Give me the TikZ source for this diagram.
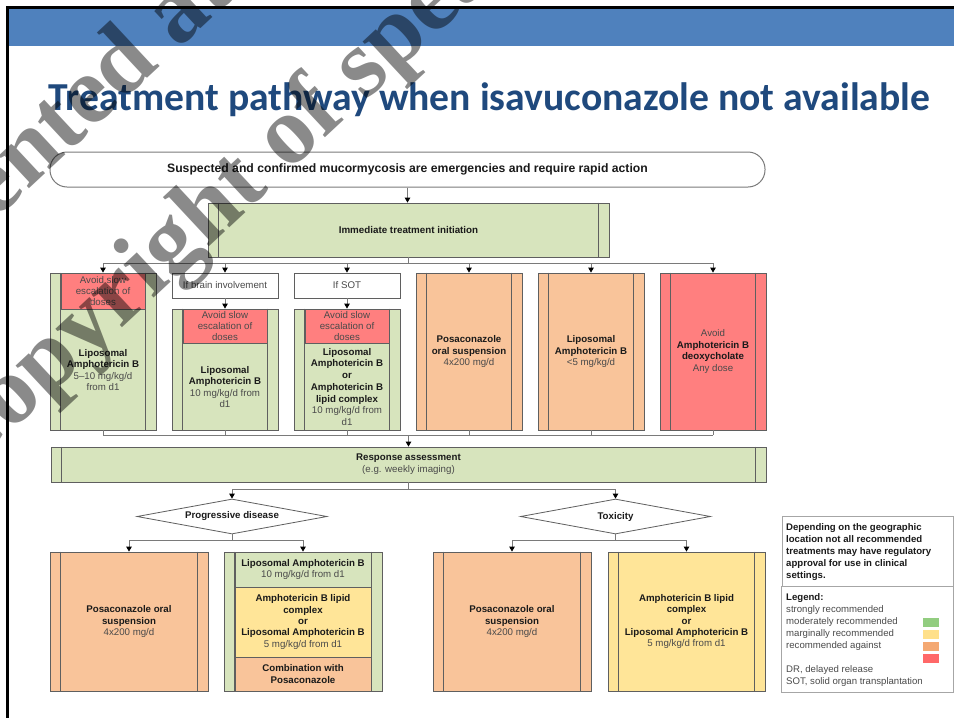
\documentclass[tikz,border=0pt]{standalone}
\usepackage{fontspec}
\setmainfont{Liberation Sans}
\newfontfamily\titlefont{Carlito}
\newfontfamily\markfont{Liberation Serif}
\usetikzlibrary{arrows.meta,calc,fit,shapes.geometric}

\definecolor{barblue}{HTML}{4F81BD}
\definecolor{titleblue}{HTML}{1F497D}
\definecolor{greenfill}{HTML}{D7E4BD}
\definecolor{orangefill}{HTML}{F9C49A}
\definecolor{redfill}{HTML}{FF7F7F}
\definecolor{yellowfill}{HTML}{FFE598}
\definecolor{edgec}{HTML}{5F5F5F}
\definecolor{connc}{HTML}{7A7A7A}
\definecolor{txtc}{HTML}{1A1A1A}
\definecolor{softtxt}{HTML}{4A4A4A}
\definecolor{lgreen}{HTML}{92CD80}
\definecolor{lyellow}{HTML}{FFE08A}
\definecolor{lorange}{HTML}{F4A872}
\definecolor{lred}{HTML}{FF6868}

\newcommand\fs[2]{\fontsize{#1}{#2}\selectfont}
\newcommand\dose[1]{\textcolor{softtxt}{#1}}

% process box: rectangle with a vertical rule inset on each side
\newcommand\pbox[6]{%
  \path (#2,#3) coordinate (#1-a) (#4,#5) coordinate (#1-b);
  \node[fit=(#1-a)(#1-b), boxline, fill=#6] (#1) {};
  \draw[boxline] ($(#1.north west)+(11,0)$) -- ($(#1.south west)+(11,0)$)
                 ($(#1.north east)+(-11,0)$) -- ($(#1.south east)+(-11,0)$);
}
% plain rectangle
\newcommand\plainbox[6]{%
  \path (#2,#3) coordinate (#1-a) (#4,#5) coordinate (#1-b);
  \node[fit=(#1-a)(#1-b), boxline, fill=#6] (#1) {};
}

\tikzset{
  boxline/.style={draw=edgec, line width=0.8pt, inner sep=0pt},
  conn/.style={draw=connc, line width=0.9pt},
  arr/.style={conn, -{Triangle[length=5pt,width=5.5pt,color=black]}},
  lbl/.style={align=center, inner sep=0pt, text=txtc, font=\fs{9.7}{11.4}},
  decision/.style={diamond, draw=edgec, fill=white, line width=0.8pt, aspect=5.4,
    minimum width=190pt, minimum height=35pt, inner sep=0pt, text=txtc,
    font=\bfseries\fs{9.7}{11}},
  swatch/.style={minimum width=16pt, minimum height=9pt, inner sep=0pt},
  wmark/.style={rotate=43, anchor=base west, inner sep=0pt, text=black,
    text opacity=0.46, font=\markfont\bfseries\fs{97}{100}},
}

\begin{document}
\begin{tikzpicture}[x=1pt,y=-1pt]
\useasboundingbox (0,0) rectangle (954,718);
\fill[white] (0,0) rectangle (954,718);

% slide header bar and frame
\fill[barblue] (8,8) rectangle (954,46);
\draw[black, line width=2.2pt] (7.5,718) -- (7.5,7.5) -- (954,7.5);

\node[anchor=base west, inner sep=0pt, text=titleblue] (title) at (48,110.5)
  {\resizebox{882pt}{!}{\titlefont\bfseries\fs{38}{40}Treatment pathway when isavuconazole not available}};

% entry
\node[draw=connc, line width=1pt, rounded corners=17pt, minimum width=715pt,
      minimum height=35pt, inner sep=0pt, text=txtc, font=\bfseries\fs{12.2}{14}]
  (alarm) at (407.5,169.5) {Suspected and confirmed mucormycosis are emergencies and require rapid action};

\pbox{imm}{208}{203}{609}{257}{greenfill}
\node[lbl, font=\bfseries\fs{9.8}{11}] (immt) at (imm.center) {Immediate treatment initiation};

% first-line options
\pbox{c1}{50}{273}{156}{430}{greenfill}
\plainbox{h1}{61}{273}{145}{309}{redfill}

\plainbox{q2}{172}{273}{278}{298}{white}
\pbox{c2}{172}{309}{278}{430}{greenfill}
\plainbox{h2}{183}{309}{267}{343}{redfill}

\plainbox{q3}{294}{273}{400}{298}{white}
\pbox{c3}{294}{309}{400}{430}{greenfill}
\plainbox{h3}{305}{309}{389}{343}{redfill}

\pbox{c4}{416}{273}{522}{430}{orangefill}
\pbox{c5}{538}{273}{644}{430}{orangefill}
\pbox{c6}{660}{273}{766}{430}{redfill}

\node[lbl, text=softtxt] (h1t) at (h1.center) {Avoid slow\\escalation of\\doses};
\node[lbl, text=softtxt] (h2t) at (h2.center) {Avoid slow\\escalation of\\doses};
\node[lbl, text=softtxt] (h3t) at (h3.center) {Avoid slow\\escalation of\\doses};
\node[lbl, text=softtxt] (q2t) at (q2.center) {If brain involvement};
\node[lbl, text=softtxt] (q3t) at (q3.center) {If SOT};

\node[lbl] (c1t) at ($(h1.south)!0.5!(c1.south)$)
  {\textbf{Liposomal}\\\textbf{Amphotericin B}\\\dose{5–10 mg/kg/d}\\\dose{from d1}};
\node[lbl] (c2t) at ($(h2.south)!0.5!(c2.south)$)
  {\textbf{Liposomal}\\\textbf{Amphotericin B}\\\dose{10 mg/kg/d from}\\\dose{d1}};
\node[lbl, font=\fs{9.7}{11.7}] (c3t) at ($(h3.south)!0.5!(c3.south)$)
  {\textbf{Liposomal}\\\textbf{Amphotericin B}\\\textbf{or}\\\textbf{Amphotericin B}\\\textbf{lipid complex}\\\dose{10 mg/kg/d from}\\\dose{d1}};
\node[lbl] (c4t) at (c4.center)
  {\textbf{Posaconazole}\\\textbf{oral suspension}\\\dose{4x200 mg/d}};
\node[lbl] (c5t) at (c5.center)
  {\textbf{Liposomal}\\\textbf{Amphotericin B}\\\dose{<5 mg/kg/d}};
\node[lbl] (c6t) at (c6.center)
  {\dose{Avoid}\\\textbf{Amphotericin B}\\\textbf{deoxycholate}\\\dose{Any dose}};

% assessment
\pbox{resp}{51}{447}{766}{482}{greenfill}
\node[lbl, font=\fs{9.7}{12}] (respt) at (resp.center)
  {\textbf{Response assessment}\\\dose{(e.g. weekly imaging)}};

\node[decision] (prog) at (232,516.5) {Progressive disease};
\node[decision] (tox) at (615.5,516.5) {Toxicity};

% second-line options
\pbox{b1}{50}{552}{208}{691}{orangefill}
\pbox{b2}{224}{552}{382}{691}{greenfill}
\plainbox{b2a}{235}{552}{371}{587}{greenfill}
\plainbox{b2b}{235}{587}{371}{657}{yellowfill}
\plainbox{b2c}{235}{657}{371}{691}{orangefill}
\pbox{b3}{433}{552}{591}{691}{orangefill}
\pbox{b4}{608}{552}{765}{691}{yellowfill}

\node[lbl] (b1t) at (b1.center)
  {\textbf{Posaconazole oral}\\\textbf{suspension}\\\dose{4x200 mg/d}};
\node[lbl] (b2at) at (b2a.center)
  {\textbf{Liposomal Amphotericin B}\\\dose{10 mg/kg/d from d1}};
\node[lbl] (b2bt) at (b2b.center)
  {\textbf{Amphotericin B lipid}\\\textbf{complex}\\\textbf{or}\\\textbf{Liposomal Amphotericin B}\\\dose{5 mg/kg/d from d1}};
\node[lbl] (b2ct) at (b2c.center)
  {\textbf{Combination with}\\\textbf{Posaconazole}};
\node[lbl] (b3t) at (b3.center)
  {\textbf{Posaconazole oral}\\\textbf{suspension}\\\dose{4x200 mg/d}};
\node[lbl] (b4t) at (b4.center)
  {\textbf{Amphotericin B lipid}\\\textbf{complex}\\\textbf{or}\\\textbf{Liposomal Amphotericin B}\\\dose{5 mg/kg/d from d1}};

% connectors
\draw[arr] (alarm.south) -- (alarm.south |- imm.north);

\coordinate (busA) at ($(imm.south)+(0,6)$);
\draw[conn] (imm.south) -- (busA);
\draw[conn] (c1.north |- busA) -- (c6.north |- busA);
\foreach \n in {c1,q2,q3,c4,c5,c6} \draw[arr] (\n.north |- busA) -- (\n.north);
\draw[arr] (q2.south) -- (c2.north);
\draw[arr] (q3.south) -- (c3.north);

\coordinate (busB) at ($(c1.south)+(0,5)$);
\foreach \n in {c1,c2,c3,c4,c5,c6} \draw[conn] (\n.south) -- (\n.south |- busB);
\draw[conn] (c1.south |- busB) -- (c6.south |- busB);
\draw[arr] (resp.north |- busB) -- (resp.north);

\coordinate (busC) at ($(resp.south)+(0,7)$);
\draw[conn] (resp.south) -- (busC);
\draw[conn] (prog.north |- busC) -- (tox.north |- busC);
\draw[arr] (prog.north |- busC) -- (prog.north);
\draw[arr] (tox.north |- busC) -- (tox.north);

\coordinate (busD) at ($(prog.south)+(0,6)$);
\draw[conn] (prog.south) -- (busD);
\draw[conn] (b1.north |- busD) -- (b2.north |- busD);
\draw[arr] (b1.north |- busD) -- (b1.north);
\draw[arr] (b2.north |- busD) -- (b2.north);

\coordinate (busE) at ($(tox.south)+(0,6)$);
\draw[conn] (tox.south) -- (busE);
\draw[conn] (b3.north |- busE) -- (b4.north |- busE);
\draw[arr] (b3.north |- busE) -- (b3.north);
\draw[arr] (b4.north |- busE) -- (b4.north);

% note and legend
\path (782,516) coordinate (note-a) (953,586) coordinate (note-b) (953,692) coordinate (legend-b);
\node[fit=(note-a)(note-b), draw=black!35, line width=0.8pt, inner sep=0pt] (note) {};
\node[fit=(note.south west)(legend-b), draw=black!35, line width=0.8pt, inner sep=0pt] (legend) {};
\node[anchor=north west, align=left, inner sep=0pt, text=txtc, font=\bfseries\fs{9.6}{12}]
  (notet) at (786,523.5)
  {Depending on the geographic\\location not all recommended\\treatments may have regulatory\\approval for use in clinical\\settings.};
\node[anchor=north west, align=left, inner sep=0pt, text=softtxt, font=\fs{9.6}{12}]
  (legendt) at (786,593)
  {\textcolor{txtc}{\textbf{Legend:}}\\strongly recommended\\moderately recommended\\marginally recommended\\recommended against\\[12pt]DR, delayed release\\SOT, solid organ transplantation};
\node[swatch, fill=lgreen] (sw1) at (931,622) {};
\node[swatch, fill=lyellow] (sw2) at (931,634) {};
\node[swatch, fill=lorange] (sw3) at (931,646) {};
\node[swatch, fill=lred] (sw4) at (931,658) {};

% watermark
\begin{scope}
\clip (0,0) rectangle (954,718);
\node[wmark] (mark1) at (-137,344) {Presented at};
\node[wmark] (mark2) at (-41,480) {Copyright of speaker};
\end{scope}
\end{tikzpicture}
\end{document}
